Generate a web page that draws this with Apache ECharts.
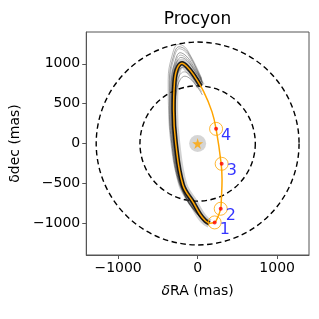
<!DOCTYPE html>
<html><head><meta charset="utf-8">
<script src="https://cdn.jsdelivr.net/npm/echarts@6/dist/echarts.min.js"></script>
<style>html,body{margin:0;padding:0;background:#fff}#c{width:319px;height:319px}</style>
</head><body><div id="c"></div>
<script>
// ---- data ----
const title = 'Procyon';
const xTicks = [-1000, 0, 1000];
const yTicks = [-1000, -500, 0, 500, 1000];
const ringRadii = [725, 1275];
const starRA = [0], starDec = [0];
// best-fit orbit (orange)
const orbitRA  = [147, 214, 255, 290, 298, 307, 295, 232, 181, 76, -50, -130, -196, -262, -293, -302, -275, -186, -50, 34, 97, 147];
const orbitDec = [-1001, -991, -920, -819, -706, -455, -246, 184, 397, 652, 862, 960, 1009, 930, 736, 423, 5, -518, -748, -895, -970, -1001];
// sampled orbits (gray arcs)
const grayOrbits = [
 [[140,-1010],[60,-955],[-40,-850],[-150,-690],[-260,-420],[-335,0],[-365,420],[-370,800],[-325,1090],[-245,1245],[-165,1215],[-85,1095],[0,930],[50,820]],
 [[140,-1008],[62,-952],[-35,-848],[-140,-695],[-250,-425],[-325,0],[-355,420],[-355,795],[-310,1075],[-235,1215],[-155,1180],[-75,1060],[5,900],[52,805]],
 [[140,-1008],[62,-952],[-35,-848],[-140,-695],[-250,-425],[-320,0],[-345,420],[-345,790],[-300,1060],[-230,1190],[-150,1150],[-70,1030],[10,880],[55,790]],
 [[142,-1006],[64,-950],[-30,-845],[-135,-700],[-240,-430],[-310,0],[-335,420],[-330,780],[-285,1030],[-220,1140],[-140,1095],[-60,985],[20,850],[60,770]],
 [[142,-1006],[64,-950],[-30,-845],[-135,-700],[-240,-430],[-305,0],[-328,420],[-322,775],[-278,1015],[-215,1110],[-135,1065],[-55,955],[25,830],[62,760]],
 [[144,-1004],[66,-948],[-25,-842],[-125,-705],[-230,-440],[-300,0],[-322,420],[-315,770],[-270,1000],[-210,1080],[-130,1040],[-50,930],[30,810],[65,750]],
 [[145,-1002],[68,-946],[-20,-838],[-118,-705],[-220,-445],[-290,0],[-312,420],[-300,745],[-255,950],[-195,1030],[-120,990],[-40,880],[35,760]],
 [[146,-1000],[70,-945],[-15,-835],[-110,-705],[-210,-450],[-280,0],[-300,420],[-285,720],[-240,900],[-180,960],[-110,920],[-30,810],[40,700]],
 [[148,-998],[72,-942],[-10,-830],[-100,-700],[-200,-450],[-270,0],[-290,420],[-275,690],[-230,850],[-170,900],[-100,860],[-20,760],[50,650]],
 [[150,-996],[75,-940],[-5,-825],[-95,-695],[-190,-450],[-260,0],[-280,420],[-265,660],[-220,800],[-160,845],[-90,810],[-10,720],[60,610]]
];
// dense band along the best-fit orbit
const bandRA  = [150, 97, 34, -50, -186, -275, -302, -293, -262, -196, -130, -50, 40];
const bandDec = [-1003, -970, -895, -748, -518, 5, 423, 736, 930, 1009, 960, 862, 720];
// epoch points
const pointRA = [214, 290, 302, 232];
const pointDec = [-991, -819, -255, 184];
const pointLabels = ['1', '2', '3', '4'];

const FONT = 'DejaVu Sans';
const chart = echarts.init(document.getElementById('c'));
const starPath = 'path://M50,0 L61,35 L98,35 L68,57 L79,91 L50,70 L21,91 L32,57 L2,35 L39,35 Z';
const series = [];
series.push({
  type: 'custom', silent: true, z: 1,
  data: ringRadii.map(r => [r]),
  renderItem: (params, api) => {
    const c = api.coord([0, 0]);
    const r = api.size([api.value(0), 0])[0];
    return { type: 'circle', shape: { cx: c[0], cy: c[1], r: r },
      style: { fill: 'none', stroke: '#000', lineWidth: 1.4, lineDash: [5.5, 3.5] } };
  }
});
series.push({
  type: 'line', data: bandRA.map((x, i) => [x, bandDec[i]]), smooth: 0.4, symbol: 'none', z: 2, silent: true,
  lineStyle: { color: 'rgba(0,0,0,0.18)', width: 9 }
});
grayOrbits.forEach((arc, i) => series.push({
  type: 'line', data: arc, smooth: 0.4, symbol: 'none', z: 2, silent: true,
  lineStyle: { color: i % 2 ? 'rgba(30,30,30,0.6)' : 'rgba(70,70,70,0.55)', width: 0.7 }
}));
series.push({
  type: 'line', data: bandRA.map((x, i) => [x, bandDec[i]]), smooth: 0.4, symbol: 'none', z: 3, silent: true,
  lineStyle: { color: 'rgba(0,0,0,0.85)', width: 4.5 }
});
series.push({
  type: 'line', data: orbitRA.map((x, i) => [x, orbitDec[i]]), smooth: 0.4, symbol: 'none', z: 4, silent: true,
  lineStyle: { color: '#FFA500', width: 1.5 }
});
series.push({
  type: 'scatter', data: starRA.map((x, i) => [x, starDec[i]]), symbolSize: 17, z: 5, silent: true,
  itemStyle: { color: 'rgba(150,150,150,0.5)' }
});
series.push({
  type: 'scatter', data: starRA.map((x, i) => [x, starDec[i]]), symbol: starPath, symbolSize: 11, z: 6, silent: true,
  itemStyle: { color: '#FFA500' }
});
series.push({
  type: 'scatter', data: pointRA.map((x, i) => [x, pointDec[i]]), symbolSize: 13, z: 7, silent: true,
  itemStyle: { color: 'none', borderColor: '#FFA500', borderWidth: 1 }
});
series.push({
  type: 'scatter', data: pointRA.map((x, i) => ({ value: [x, pointDec[i]], name: pointLabels[i] })), symbolSize: 4, z: 8, silent: true,
  itemStyle: { color: '#ff0000' },
  label: { show: true, formatter: p => p.name, position: 'right', offset: [-2, 7],
    color: '#0000ff', fontSize: 16, fontFamily: FONT }
});

chart.setOption({
  animation: false,
  backgroundColor: '#fff',
  graphic: [{ type: 'text', x: 197.5, y: 20, z: 10,
    style: { text: title, fontFamily: FONT, fontSize: 17, fill: '#000', align: 'center', verticalAlign: 'middle' } }],
  grid: { left: 86, right: 10, top: 32, bottom: 64, show: true, borderColor: '#555', borderWidth: 1 },
  xAxis: {
    type: 'value', min: -1400, max: 1400,
    name: '{i|δ}RA (mas)', nameLocation: 'middle', nameGap: 29,
    nameTextStyle: { fontFamily: FONT, fontSize: 14, color: '#000', rich: { i: { fontStyle: 'italic', fontFamily: FONT, fontSize: 14 } } },
    axisLine: { show: true, onZero: false, lineStyle: { color: '#555' } },
    axisTick: { show: true, customValues: xTicks, length: 4, lineStyle: { color: '#555' } },
    axisLabel: { customValues: xTicks, margin: 6, fontFamily: FONT, fontSize: 14, color: '#000',
      formatter: v => String(v).replace('-', '\u2212') },
    splitLine: { show: false }
  },
  yAxis: {
    type: 'value', min: -1400, max: 1400,
    name: 'δdec (mas)', nameLocation: 'middle', nameGap: 53, nameRotate: 90,
    nameTextStyle: { fontFamily: FONT, fontSize: 14, color: '#000' },
    axisLine: { show: true, onZero: false, lineStyle: { color: '#555' } },
    axisTick: { show: true, customValues: yTicks, length: 4, lineStyle: { color: '#555' } },
    axisLabel: { customValues: yTicks, margin: 6, fontFamily: FONT, fontSize: 14, color: '#000',
      formatter: v => String(v).replace('-', '\u2212') },
    splitLine: { show: false }
  },
  series: series
});
</script></body></html>
